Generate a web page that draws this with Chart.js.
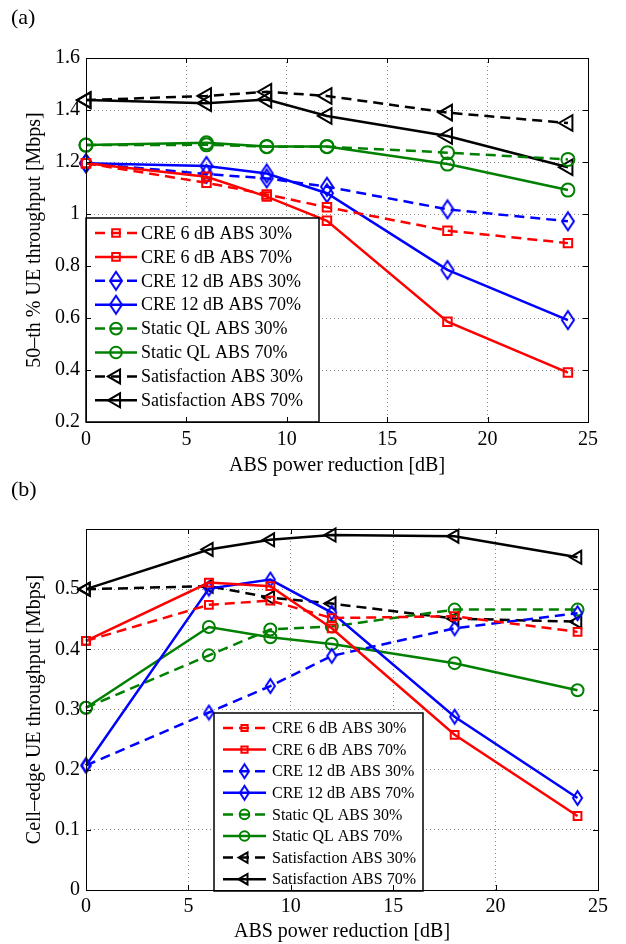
<!DOCTYPE html>
<html>
<head>
<meta charset="utf-8">
<script src="https://cdn.jsdelivr.net/npm/chart.js@4.4.1/dist/chart.umd.min.js"></script>
<style>
  html, body { margin: 0; padding: 0; background: #fff; }
  body { width: 626px; height: 944px; position: relative; overflow: hidden; font-family: "Liberation Serif", "Times New Roman", serif; }
  canvas { position: absolute; left: 0; }
  .tag { position: absolute; left: 11px; font-size: 22px; line-height: 24px; z-index: 2; }
</style>
</head>
<body>
<canvas id="chartA" width="626" height="490" style="top:0"></canvas>
<canvas id="chartB" width="626" height="464" style="top:480px"></canvas>
<div class="tag" style="top:5px">(a)</div>
<div class="tag" style="top:477px">(b)</div>
<script>
// x values and ticks
const absReduction = [0, 6, 9, 12, 18, 24];
const xTicks = [0, 5, 10, 15, 20, 25];
const yTicksMedian = [0.2, 0.4, 0.6, 0.8, 1, 1.2, 1.4, 1.6];
const yTicksEdge = [0, 0.1, 0.2, 0.3, 0.4, 0.5];

const seriesLabels = [
  'CRE 6 dB ABS 30%', 'CRE 6 dB ABS 70%',
  'CRE 12 dB ABS 30%', 'CRE 12 dB ABS 70%',
  'Static QL ABS 30%', 'Static QL ABS 70%',
  'Satisfaction ABS 30%', 'Satisfaction ABS 70%'
];

// (a) 50-th % UE throughput [Mbps]
const medCre6Abs30  = [1.195, 1.120, 1.075, 1.026, 0.936, 0.888];
const medCre6Abs70  = [1.195, 1.143, 1.067, 0.974, 0.586, 0.390];
const medCre12Abs30 = [1.195, 1.154, 1.137, 1.105, 1.018, 0.972];
const medCre12Abs70 = [1.195, 1.185, 1.156, 1.080, 0.785, 0.592];
const medQlAbs30    = [1.265, 1.266, 1.259, 1.259, 1.236, 1.210];
const medQlAbs70    = [1.265, 1.274, 1.260, 1.260, 1.192, 1.092];
const medSatAbs30   = [1.438, 1.454, 1.470, 1.454, 1.390, 1.350];
const medSatAbs70   = [1.438, 1.426, 1.440, 1.377, 1.300, 1.180];

// (b) cell-edge UE throughput [Mbps]
const edgeCre6Abs30  = [0.414, 0.474, 0.481, 0.452, 0.455, 0.429];
const edgeCre6Abs70  = [0.414, 0.511, 0.505, 0.435, 0.258, 0.123];
const edgeCre12Abs30 = [0.207, 0.295, 0.339, 0.389, 0.435, 0.460];
const edgeCre12Abs70 = [0.207, 0.501, 0.516, 0.461, 0.288, 0.153];
const edgeQlAbs30    = [0.303, 0.390, 0.433, 0.438, 0.466, 0.466];
const edgeQlAbs70    = [0.303, 0.437, 0.420, 0.409, 0.377, 0.332];
const edgeSatAbs30   = [0.500, 0.505, 0.486, 0.476, 0.451, 0.446];
const edgeSatAbs70   = [0.500, 0.566, 0.582, 0.590, 0.588, 0.553];

const FONT = 'Liberation Serif';
const DASH = [10, 6];

// matlab-ish diamond, taller than wide
function diamond(color, w, h) {
  const c = document.createElement('canvas');
  c.width = w + 4; c.height = h + 4;
  const g = c.getContext('2d');
  g.strokeStyle = color; g.lineWidth = 2;
  g.beginPath();
  g.moveTo(c.width / 2, 2); g.lineTo(c.width - 2, c.height / 2);
  g.lineTo(c.width / 2, c.height - 2); g.lineTo(2, c.height / 2);
  g.closePath(); g.stroke();
  return c;
}

function styleFor(i, sz) {
  const color = ['#ff0000', '#0000ff', '#008000', '#000000'][Math.floor(i / 2)];
  const dashed = i % 2 === 0;
  const kind = Math.floor(i / 2);
  let pointStyle = 'rect', radius = sz.rect, rotation = 0;
  if (kind === 1) { pointStyle = diamond(color, sz.dw, sz.dh); radius = 6; }
  if (kind === 2) { pointStyle = 'circle'; radius = sz.circle; }
  if (kind === 3) { pointStyle = 'triangle'; radius = sz.tri; rotation = -90; }
  return { color, dash: dashed ? DASH : [], pointStyle, radius, rotation };
}

function makeDatasets(series, sz) {
  return series.map((vals, i) => {
    const st = styleFor(i, sz);
    return {
      label: seriesLabels[i],
      data: vals.map((v, k) => ({ x: absReduction[k], y: v })),
      borderColor: st.color,
      borderWidth: 2.5,
      borderDash: st.dash,
      pointStyle: st.pointStyle,
      pointRadius: st.radius,
      pointRotation: st.rotation,
      pointBorderColor: st.color,
      pointBackgroundColor: 'rgba(0,0,0,0)',
      pointBorderWidth: 2,
      tension: 0,
      clip: false
    };
  });
}

const framePlugin = {
  id: 'frame',
  afterDraw(chart) {
    const { ctx, chartArea: a } = chart;
    const xs = chart.scales.x, ys = chart.scales.y;
    ctx.save();
    ctx.strokeStyle = '#000';
    ctx.lineWidth = 1;
    ctx.strokeRect(a.left + 0.5, a.top + 0.5, a.right - a.left, a.bottom - a.top);
    ctx.beginPath();
    xs.ticks.forEach(t => {
      const px = Math.round(xs.getPixelForValue(t.value)) + 0.5;
      ctx.moveTo(px, a.bottom); ctx.lineTo(px, a.bottom - 5);
      ctx.moveTo(px, a.top); ctx.lineTo(px, a.top + 5);
    });
    ys.ticks.forEach(t => {
      const py = Math.round(ys.getPixelForValue(t.value)) + 0.5;
      ctx.moveTo(a.left, py); ctx.lineTo(a.left + 5, py);
      ctx.moveTo(a.right, py); ctx.lineTo(a.right - 5, py);
    });
    ctx.stroke();
    ctx.restore();
  }
};

const boxLegend = {
  id: 'boxLegend',
  afterDatasetsDraw(chart, args, o) {
    const ctx = chart.ctx;
    ctx.save();
    ctx.fillStyle = '#fff';
    ctx.fillRect(o.x, o.y, o.w, o.h);
    ctx.strokeStyle = '#000';
    ctx.lineWidth = 1.5;
    ctx.strokeRect(o.x, o.y, o.w, o.h);
    ctx.font = o.font + 'px "' + FONT + '"';
    ctx.textBaseline = 'middle';
    chart.data.datasets.forEach((ds, i) => {
      const cy = o.rowY + i * o.rowH;
      ctx.strokeStyle = ds.borderColor;
      ctx.lineWidth = ds.borderWidth;
      ctx.setLineDash(ds.borderDash);
      ctx.beginPath();
      ctx.moveTo(o.x0, cy); ctx.lineTo(o.x1, cy);
      ctx.stroke();
      ctx.setLineDash([]);
      ctx.fillStyle = 'rgba(0,0,0,0)';
      ctx.lineWidth = ds.pointBorderWidth;
      Chart.helpers.drawPoint(ctx, {
        pointStyle: ds.pointStyle, rotation: ds.pointRotation,
        radius: ds.pointRadius * o.markScale, borderWidth: ds.pointBorderWidth
      }, (o.x0 + o.x1) / 2, cy);
      ctx.fillStyle = '#000';
      ctx.fillText(ds.label, o.textX, cy + 1);
    });
    ctx.restore();
  }
};

function build(id, series, cfg) {
  return new Chart(document.getElementById(id), {
    type: 'line',
    data: { datasets: makeDatasets(series, cfg.sz) },
    options: {
      responsive: false,
      animation: false,
      devicePixelRatio: 1,
      layout: { padding: { top: cfg.top, right: cfg.right, left: 0, bottom: 0 } },
      plugins: { legend: { display: false }, tooltip: { enabled: false }, boxLegend: cfg.legend },
      scales: {
        x: {
          type: 'linear', min: 0, max: 25,
          afterBuildTicks: s => { s.ticks = xTicks.map(v => ({ value: v })); },
          afterFit: s => { s.height = cfg.xAxisH; },
          grid: { color: '#8a8a8a', lineWidth: 1, drawTicks: false },
          border: { display: false, dash: [1, 3] },
          ticks: { color: '#000', padding: cfg.xTickPad, font: { family: FONT, size: 20 }, maxRotation: 0 },
          title: { display: true, text: 'ABS power reduction [dB]', color: '#000',
                   font: { family: FONT, size: 20 }, padding: { top: 0, bottom: cfg.xTitlePad } }
        },
        y: {
          min: cfg.yMin, max: cfg.yMax,
          afterBuildTicks: s => { s.ticks = cfg.yTicks.map(v => ({ value: v })); },
          afterFit: s => { s.width = 86; },
          grid: { color: '#8a8a8a', lineWidth: 1, drawTicks: false },
          border: { display: false, dash: [1, 3] },
          ticks: { color: '#000', padding: 6, font: { family: FONT, size: 20 },
                   callback: v => String(+v.toFixed(2)) },
          title: { display: true, text: cfg.yTitle, color: '#000',
                   font: { family: FONT, size: 20 }, padding: { top: 23, bottom: 0 } }
        }
      }
    },
    plugins: [boxLegend, framePlugin]
  });
}

build('chartA',
  [medCre6Abs30, medCre6Abs70, medCre12Abs30, medCre12Abs70, medQlAbs30, medQlAbs70, medSatAbs30, medSatAbs70],
  {
    top: 58, right: 38, xAxisH: 68, xTickPad: 6, xTitlePad: 12,
    yMin: 0.2, yMax: 1.6, yTicks: yTicksMedian, yTitle: '50\u2013th % UE throughput [Mbps]',
    sz: { rect: 6, dw: 12, dh: 18, circle: 6.5, tri: 9 },
    legend: { x: 86, y: 218, w: 233, h: 204, rowY: 233, rowH: 23.9, x0: 95, x1: 137, textX: 141, font: 18, markScale: 0.9 }
  });

build('chartB',
  [edgeCre6Abs30, edgeCre6Abs70, edgeCre12Abs30, edgeCre12Abs70, edgeQlAbs30, edgeQlAbs70, edgeSatAbs30, edgeSatAbs70],
  {
    top: 49, right: 28, xAxisH: 54, xTickPad: 5, xTitlePad: 0,
    yMin: 0, yMax: 0.6, yTicks: yTicksEdge, yTitle: 'Cell\u2013edge UE throughput [Mbps]',
    sz: { rect: 5.5, dw: 9, dh: 14, circle: 6, tri: 7.5 },
    legend: { x: 214, y: 233, w: 209, h: 178, rowY: 248, rowH: 21.6, x0: 223, x1: 266, textX: 272, font: 16, markScale: 0.8 }
  });
</script>
</body>
</html>
